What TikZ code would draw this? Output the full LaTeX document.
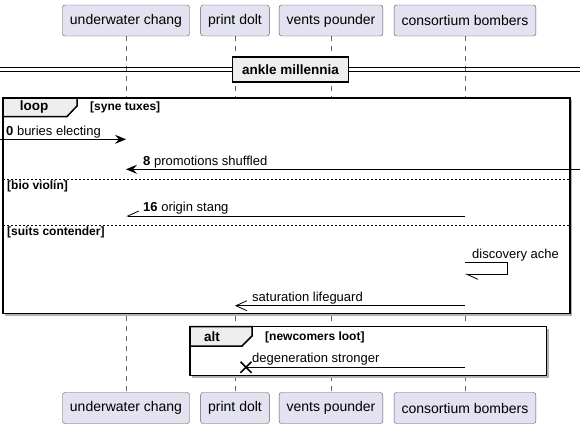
\documentclass[tikz,border=0pt]{standalone}
\usepackage{fontspec}
\setmainfont{Liberation Sans}
\usetikzlibrary{arrows.meta}
\definecolor{partfill}{HTML}{E2E2F0}
\definecolor{tabfill}{HTML}{EEEEEE}
\begin{document}
\begin{tikzpicture}[x=1pt, y=-1pt, font=\fontsize{13}{15}\selectfont,
		part/.style={draw=black!65, fill=partfill, rounded corners=2.5pt, minimum height=31pt, inner xsep=7.5pt, inner ysep=0pt, font=\fontsize{14}{16}\selectfont},
		life/.style={black!60, dash pattern=on 5pt off 5pt},
		frame/.style={line width=1.5pt},
		sep/.style={black, line width=0.6pt, dash pattern=on 2pt off 2pt},
		guard/.style={font=\fontsize{12}{14}\selectfont\bfseries, anchor=west, inner sep=0pt},
		msg/.style={anchor=base west, inner sep=0pt},
		arr/.style={line width=0.8pt}]
	\useasboundingbox (0,0) rectangle (586,429);
	\foreach \p / \x / \txt in {uc/126/underwater chang, pd/235/print dolt, vp/331/vents pounder, cb/465/consortium bombers} {
		\node[part] (\p top) at (\x,20.5) {\txt};
		\node[part] (\p bot) at (\x,408) {\txt};
		\draw[life] (\p top) -- (\p bot);
	}
	% divider
	\draw[line width=0.8pt] (0,67.7) -- (580,67.7) (0,71.7) -- (580,71.7);
	\node[draw, frame, fill=tabfill, minimum width=116pt, minimum height=25pt, inner sep=0pt, font=\fontsize{13.5}{15}\selectfont\bfseries] (div) at (290.5,69.5) {ankle millennia};
	% loop
	\fill[black!30] (5,100) rectangle (572,316);
	\draw[frame, fill=white] (3,98) rectangle (570,313.5);
	\draw[frame, fill=tabfill] (3,98) -- (77,98) -- (77,106) -- (67,116.5) -- (3,116.5) -- cycle;
	\node[font=\fontsize{13.5}{15}\selectfont\bfseries] (lp) at (34,107.5) {loop};
	\node[guard] (g1) at (90,107) {[syne tuxes]};
	\draw[sep] (3,179.3) -- (570,179.3);
	\node[guard] (g2) at (7,186.5) {[bio violin]};
	\draw[sep] (3,225.3) -- (570,225.3);
	\node[guard] (g3) at (7,232.5) {[suits contender]};
	% messages
	\coordinate (m0a) at (0,139.3);
	\coordinate (m0b) at (126,139.3);
	\draw[arr, -{Stealth[length=11pt, width=9pt, inset=4pt]}] (m0a) -- (m0b);
	\node[msg] (t0) at (6,135) {\textbf{0} buries electing};
	\coordinate (m8a) at (580,169.3);
	\coordinate (m8b) at (126,169.3);
	\draw[arr, -{Stealth[length=11pt, width=9pt, inset=4pt]}] (m8a) -- (m8b);
	\node[msg] (t8) at (143,165) {\textbf{8} promotions shuffled};
	\coordinate (m16a) at (465,216);
	\coordinate (m16b) at (126,216);
	\draw[arr, -{Straight Barb[length=11pt, width=10pt, right]}] (m16a) -- (m16b);
	\node[msg] (t16) at (143,211.5) {\textbf{16} origin stang};
	\coordinate (sa) at (465,262.3);
	\coordinate (sb) at (507.7,262.3);
	\coordinate (sc) at (507.7,274.3);
	\coordinate (sd) at (465,274.3);
	\draw[arr, -{Straight Barb[length=11pt, width=10pt, left]}] (sa) -- (sb) -- (sc) -- (sd);
	\node[msg] (ts) at (472,258) {discovery ache};
	\coordinate (msa) at (465,305.7);
	\coordinate (msb) at (235,305.7);
	\draw[arr, -{Straight Barb[length=11pt, width=10pt]}] (msa) -- (msb);
	\node[msg] (tsa) at (252,301.5) {saturation lifeguard};
	% alt
	\fill[black!30] (192,328.5) rectangle (549,378);
	\draw[frame, fill=white] (190,326.5) rectangle (546.5,375.5);
	\draw[frame, fill=tabfill] (190,326.5) -- (252,326.5) -- (252,336) -- (242,346) -- (190,346) -- cycle;
	\node[font=\fontsize{13.5}{15}\selectfont\bfseries] (al) at (212,336.5) {alt};
	\node[guard] (g4) at (265,337) {[newcomers loot]};
	\coordinate (mda) at (465,367.3);
	\coordinate (mdb) at (246,367.3);
	\draw[arr] (mda) -- (mdb);
	\draw[line width=1.6pt] (mdb) ++(-5.5,-5.5) -- ++(11,11) (mdb) ++(-5.5,5.5) -- ++(11,-11);
	\node[msg] (td) at (252,362.5) {degeneration stronger};
\end{tikzpicture}
\end{document}
